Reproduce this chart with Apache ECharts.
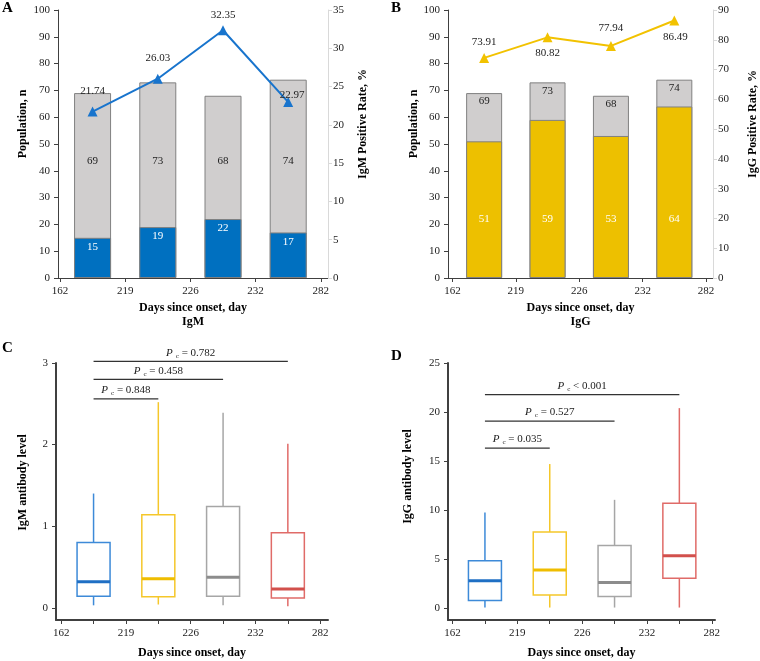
<!DOCTYPE html>
<html>
<head>
<meta charset="utf-8">
<script src="https://cdn.jsdelivr.net/npm/echarts@6/dist/echarts.min.js"></script>
<style>
html, body { margin: 0; padding: 0; background: #fff; }
#main { width: 760px; height: 661px; }
</style>
</head>
<body>
<div id="main"></div>
<script>
// values
const dayLabels = ['162', '219', '226', '232', '282'];
const groupPos = [0.5, 1.5, 2.5, 3.5];

const igmTotal = [69, 73, 68, 74];
const igmPositive = [15, 19, 22, 17];
const igmRate = [21.74, 26.03, 32.35, 22.97];

const iggTotal = [69, 73, 68, 74];
const iggPositive = [51, 59, 53, 64];
const iggRate = [73.91, 80.82, 77.94, 86.49];

// min, Q1, median, Q3, max
const igmLevel = [
  [0.03, 0.14, 0.32, 0.80, 1.40],
  [0.04, 0.135, 0.355, 1.14, 2.52],
  [0.03, 0.14, 0.375, 1.24, 2.39],
  [0.02, 0.12, 0.23, 0.92, 2.01]
];
const iggLevel = [
  [0.07, 0.78, 2.79, 4.83, 9.75],
  [0.07, 1.36, 3.90, 7.76, 14.7],
  [0.07, 1.19, 2.62, 6.39, 11.05],
  [0.07, 3.06, 5.34, 10.71, 20.4]
];

// group a, group b, bracket height, p value text
const igmTests = [
  [0, 1, 2.56, '= 0.848'],
  [0, 2, 2.80, '= 0.458'],
  [0, 3, 3.02, '= 0.782']
];
const iggTests = [
  [0, 1, 16.33, '= 0.035'],
  [0, 2, 19.08, '= 0.527'],
  [0, 3, 21.77, '< 0.001']
];

const FONT = 'Liberation Serif';
const boxColors = [
  { line: '#3d8ad8', median: '#1f6fc4' },
  { line: '#f5c72a', median: '#efbd00' },
  { line: '#a6a6a6', median: '#8c8c8c' },
  { line: '#e06b68', median: '#d2504c' }
];
// label nudges for the rate lines
const igmRateLabel = [
  { position: 'top', offset: [0, -5] },
  { position: 'top', offset: [0, -5] },
  { position: 'top', offset: [0, 0] },
  { position: 'top', offset: [4, 8] }
];
const iggRateLabel = [
  { position: 'top', offset: [0, 0] },
  { position: 'bottom', offset: [0, 0] },
  { position: 'top', offset: [0, -2] },
  { position: 'bottom', offset: [1, 1] }
];

const txt = { fontFamily: FONT, fontSize: 11, color: '#222' };
const nameTxt = { fontFamily: FONT, fontSize: 12, fontWeight: 'bold', color: '#000' };

function dayAxis(grid, min, max, ticks, name, gap) {
  return {
    type: 'value', gridIndex: grid, min: min, max: max,
    splitLine: { show: false },
    axisLine: { onZero: false, lineStyle: { color: '#404040', width: grid > 1 ? 2 : 1 } },
    axisTick: { customValues: ticks, length: 4, lineStyle: { color: '#404040' } },
    axisLabel: Object.assign({ customValues: [0, 1, 2, 3, 4], margin: 8,
      formatter: v => dayLabels[Math.round(v)] }, txt),
    name: name, nameLocation: 'middle', nameGap: gap,
    nameTextStyle: Object.assign({ lineHeight: 14 }, nameTxt)
  };
}

function valueAxis(grid, opts) {
  return Object.assign({
    type: 'value', gridIndex: grid,
    splitLine: { show: false },
    axisLine: { show: true, onZero: false, lineStyle: { color: '#404040' } },
    axisTick: { show: true, length: 4, lineStyle: { color: '#404040' } },
    axisLabel: Object.assign({ margin: 8 }, txt),
    nameLocation: 'middle', nameRotate: 90
  }, opts);
}

function boxItem(params, api) {
  const x = api.value(0);
  const lo = api.coord([x, api.value(1)]);
  const q1 = api.coord([x, api.value(2)]);
  const md = api.coord([x, api.value(3)]);
  const q3 = api.coord([x, api.value(4)]);
  const hi = api.coord([x, api.value(5)]);
  const c = boxColors[params.dataIndex];
  const hw = 16.5;
  return {
    type: 'group',
    children: [
      { type: 'line', shape: { x1: lo[0], y1: lo[1], x2: q1[0], y2: q1[1] }, style: { stroke: c.line, lineWidth: 1.5 } },
      { type: 'line', shape: { x1: q3[0], y1: q3[1], x2: hi[0], y2: hi[1] }, style: { stroke: c.line, lineWidth: 1.5 } },
      { type: 'rect', shape: { x: q3[0] - hw, y: q3[1], width: hw * 2, height: q1[1] - q3[1] },
        style: { fill: '#fff', stroke: c.line, lineWidth: 1.5 } },
      { type: 'line', shape: { x1: md[0] - hw, y1: md[1], x2: md[0] + hw, y2: md[1] }, style: { stroke: c.median, lineWidth: 3 } }
    ]
  };
}

function testItem(tests) {
  return function (params, api) {
    const a = api.coord([api.value(0), api.value(2)]);
    const b = api.coord([api.value(1), api.value(2)]);
    return {
      type: 'group',
      children: [
        { type: 'line', shape: { x1: a[0], y1: a[1], x2: b[0], y2: b[1] }, style: { stroke: '#333', lineWidth: 1.2 } },
        { type: 'text', x: (a[0] + b[0]) / 2, y: a[1] - 2,
          style: {
            text: '{p|P}{c|c}{t| ' + tests[params.dataIndex][3] + '}',
            align: 'center', verticalAlign: 'bottom',
            rich: {
              p: { fontFamily: FONT, fontSize: 11, fontStyle: 'italic', fill: '#222', lineHeight: 13 },
              c: { fontFamily: FONT, fontSize: 7, fill: '#222', lineHeight: 7, verticalAlign: 'bottom', padding: [0, 0, 0, 3] },
              t: { fontFamily: FONT, fontSize: 11, fill: '#222', lineHeight: 13 }
            }
          } }
      ]
    };
  };
}

const chart = echarts.init(document.getElementById('main'));
chart.setOption({
  animation: false,
  backgroundColor: '#fff',
  graphic: [
    { type: 'text', left: 2, top: 1, style: { text: 'A', font: 'bold 15px ' + FONT, fill: '#000' } },
    { type: 'text', left: 391, top: 1, style: { text: 'B', font: 'bold 15px ' + FONT, fill: '#000' } },
    { type: 'text', left: 2, top: 341, style: { text: 'C', font: 'bold 15px ' + FONT, fill: '#000' } },
    { type: 'text', left: 391, top: 349, style: { text: 'D', font: 'bold 15px ' + FONT, fill: '#000' } }
  ],
  grid: [
    { left: 58, top: 10, width: 270, height: 268 },
    { left: 448, top: 10, width: 271, height: 268 },
    { left: 56, top: 363, width: 272, height: 257 },
    { left: 448, top: 363, width: 267, height: 257 }
  ],
  xAxis: [
    dayAxis(0, -0.03, 4.11, [0, 1, 2, 3, 4], 'Days since onset, day\nIgM', 23),
    dayAxis(1, -0.07, 4.11, [0, 1, 2, 3, 4], 'Days since onset, day\nIgG', 23),
    dayAxis(2, -0.08, 4.12, [0, 0.5, 1, 1.5, 2, 2.5, 3, 3.5, 4], 'Days since onset, day', 26),
    dayAxis(3, -0.07, 4.05, [0, 0.5, 1, 1.5, 2, 2.5, 3, 3.5, 4], 'Days since onset, day', 26)
  ],
  yAxis: [
    valueAxis(0, { min: 0, max: 100, interval: 10, name: 'Population, n', nameGap: 29,
      nameTextStyle: Object.assign({ padding: [0, 0, 0, 40] }, nameTxt) }),
    valueAxis(0, { position: 'right', min: 0, max: 35, interval: 5, name: 'IgM Positive Rate, %', nameGap: 29,
      axisLine: { show: true, onZero: false, lineStyle: { color: '#d9d9d9' } },
      axisTick: { show: true, length: 4, lineStyle: { color: '#d9d9d9' } },
      axisLabel: Object.assign({ margin: 5 }, txt),
      nameTextStyle: Object.assign({ padding: [0, 0, 0, 40] }, nameTxt) }),
    valueAxis(1, { min: 0, max: 100, interval: 10, name: 'Population, n', nameGap: 25,
      nameTextStyle: Object.assign({ padding: [0, 0, 0, 40] }, nameTxt) }),
    valueAxis(1, { position: 'right', min: 0, max: 90, interval: 10, name: 'IgG Positive Rate, %', nameGap: 34,
      axisLine: { show: true, onZero: false, lineStyle: { color: '#d9d9d9' } },
      axisTick: { show: true, length: 4, lineStyle: { color: '#d9d9d9' } },
      axisLabel: Object.assign({ margin: 5 }, txt),
      nameTextStyle: Object.assign({ padding: [0, 0, 0, 40] }, nameTxt) }),
    valueAxis(2, { min: -0.15, max: 3, name: 'IgM antibody level', nameGap: 27,
      axisLine: { show: true, onZero: false, lineStyle: { color: '#404040', width: 2 } },
      axisLabel: Object.assign({ customValues: [0, 1, 2, 3], margin: 8 }, txt),
      axisTick: { show: true, customValues: [0, 1, 2, 3], length: 4, lineStyle: { color: '#404040' } },
      nameTextStyle: Object.assign({ padding: [0, 0, 0, 18] }, nameTxt) }),
    valueAxis(3, { min: -1.2, max: 25, name: 'IgG antibody level', nameGap: 34,
      axisLine: { show: true, onZero: false, lineStyle: { color: '#404040', width: 2 } },
      axisLabel: Object.assign({ customValues: [0, 5, 10, 15, 20, 25], margin: 8 }, txt),
      axisTick: { show: true, customValues: [0, 5, 10, 15, 20, 25], length: 4, lineStyle: { color: '#404040' } },
      nameTextStyle: Object.assign({ padding: [0, 0, 0, 30] }, nameTxt) })
  ],
  series: [
    // A
    { type: 'bar', xAxisIndex: 0, yAxisIndex: 0, barWidth: 37, barGap: '-100%',
      data: groupPos.map((x, i) => [x, igmTotal[i]]),
      itemStyle: { color: '#d0cece', borderColor: '#808080', borderWidth: 1 },
      label: Object.assign({ show: true, position: 'insideBottom', distance: 111, formatter: p => p.value[1] }, txt) },
    { type: 'bar', xAxisIndex: 0, yAxisIndex: 0, barWidth: 37, barGap: '-100%',
      data: groupPos.map((x, i) => [x, igmPositive[i]]),
      itemStyle: { color: '#0070c0', borderColor: '#808080', borderWidth: 1 },
      label: Object.assign({}, txt, { show: true, position: 'insideTop', distance: 4, color: '#fff', formatter: p => p.value[1] }) },
    { type: 'line', xAxisIndex: 0, yAxisIndex: 1, symbol: 'triangle', symbolSize: 10,
      data: groupPos.map((x, i) => ({ value: [x, igmRate[i]], label: igmRateLabel[i] })),
      lineStyle: { color: '#1874cd', width: 2 }, itemStyle: { color: '#1874cd' },
      label: Object.assign({ show: true, distance: 5, formatter: p => p.value[1].toFixed(2) }, txt) },
    // B
    { type: 'bar', xAxisIndex: 1, yAxisIndex: 2, barWidth: 36, barGap: '-100%',
      data: groupPos.map((x, i) => [x, iggTotal[i]]),
      itemStyle: { color: '#d0cece', borderColor: '#808080', borderWidth: 1 },
      label: Object.assign({ show: true, position: 'insideTop', distance: 3, formatter: p => p.value[1] }, txt) },
    { type: 'bar', xAxisIndex: 1, yAxisIndex: 2, barWidth: 36, barGap: '-100%',
      data: groupPos.map((x, i) => [x, iggPositive[i]]),
      itemStyle: { color: '#edc000', borderColor: '#808080', borderWidth: 1 },
      label: Object.assign({}, txt, { show: true, position: 'insideBottom', distance: 53, color: '#fff', formatter: p => p.value[1] }) },
    { type: 'line', xAxisIndex: 1, yAxisIndex: 3, symbol: 'triangle', symbolSize: 10,
      data: groupPos.map((x, i) => ({ value: [x, iggRate[i]], label: iggRateLabel[i] })),
      lineStyle: { color: '#f2c200', width: 2 }, itemStyle: { color: '#f2c200' },
      label: Object.assign({ show: true, distance: 5, formatter: p => p.value[1].toFixed(2) }, txt) },
    // C
    { type: 'custom', xAxisIndex: 2, yAxisIndex: 4, renderItem: boxItem,
      data: igmLevel.map((b, i) => [groupPos[i]].concat(b)) },
    { type: 'custom', xAxisIndex: 2, yAxisIndex: 4, renderItem: testItem(igmTests),
      data: igmTests.map(t => [groupPos[t[0]], groupPos[t[1]], t[2]]) },
    // D
    { type: 'custom', xAxisIndex: 3, yAxisIndex: 5, renderItem: boxItem,
      data: iggLevel.map((b, i) => [groupPos[i]].concat(b)) },
    { type: 'custom', xAxisIndex: 3, yAxisIndex: 5, renderItem: testItem(iggTests),
      data: iggTests.map(t => [groupPos[t[0]], groupPos[t[1]], t[2]]) }
  ]
});
</script>
</body>
</html>
